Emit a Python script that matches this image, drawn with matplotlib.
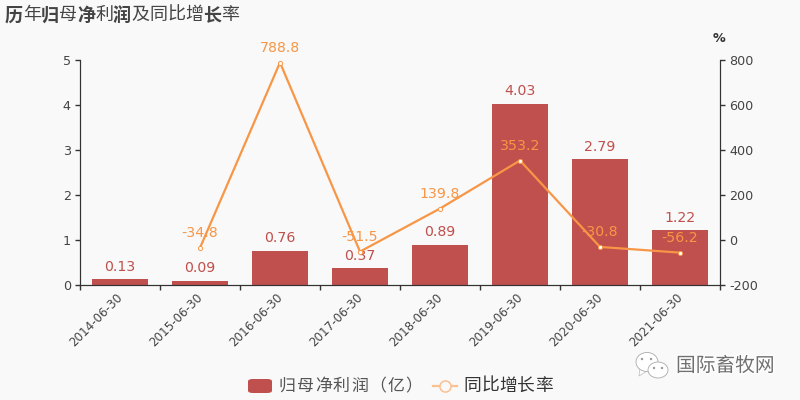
import matplotlib
matplotlib.use('Agg')
import matplotlib.pyplot as plt
import matplotlib.patheffects as pe
from matplotlib.patches import FancyBboxPatch, Ellipse, Polygon
from matplotlib.lines import Line2D

plt.rcParams['font.family'] = ['DejaVu Sans', 'Noto Sans CJK SC']
plt.rcParams['axes.unicode_minus'] = False

# Profit and growth per reporting date
dates = ['2014-06-30', '2015-06-30', '2016-06-30', '2017-06-30',
         '2018-06-30', '2019-06-30', '2020-06-30', '2021-06-30']
profit = [0.13, 0.09, 0.76, 0.37, 0.89, 4.03, 2.79, 1.22]
growth_dates = dates[1:]
growth = [-34.8, 788.8, -51.5, 139.8, 353.2, -30.8, -56.2]
left_ticks = [0, 1, 2, 3, 4, 5]
right_ticks = [-200, 0, 200, 400, 600, 800]
title_text = '历年归母净利润及同比增长率'
bold_chars = '历归净润长'
legend_bar = '归母净利润（亿）'
legend_line = '同比增长率'

BG = '#f9f9f9'
BAR = '#c0504d'
LINE = '#f79646'
DARK = '#333333'
TICK = '#444444'
CJK = ['Noto Sans CJK SC', 'DejaVu Sans']


def spaced_text(fig, text, left, y, size, color, bold=''):
    # one glyph at a time on an 18 px pitch, only some characters are heavy
    for n, ch in enumerate(text):
        fig.text((left + n * 18) / 800, 1 - y / 400, ch, fontsize=size, family=CJK,
                 color=color, va='center', ha='left',
                 fontweight='bold' if ch in bold else 'normal')


fig = plt.figure(figsize=(8, 4), dpi=100, facecolor=BG)
ax = fig.add_axes([80 / 800, 1 - 285 / 400, 640 / 800, 225 / 400], facecolor=BG)
ax2 = ax.twinx()

x = list(range(len(dates)))
ax.bar(x, profit, width=0.7, color=BAR, zorder=2)
ax.set_xlim(-0.5, 7.5)
ax.set_ylim(0, 5)
ax.set_yticks(left_ticks)
ax.set_xticks([i - 0.5 for i in range(len(dates) + 1)])
ax.set_xticklabels([])
for i, d in zip(x, dates):
    ax.annotate(d, (i, 0), xytext=(-3, -4), textcoords='offset points',
                rotation=45, ha='right', va='top', rotation_mode='anchor',
                fontsize=8.6, color=TICK)
for i, v in zip(x, profit):
    ax.annotate(f'{v:.2f}', (i, v), xytext=(0, 4),
                textcoords='offset points', ha='center', va='bottom',
                fontsize=10.2, color=BAR, zorder=6)

gx = [dates.index(d) for d in growth_dates]
ax2.plot(gx, growth, color=LINE, lw=1.6, zorder=4, marker='o', ms=3,
         mfc='white', mec=LINE, mew=0.7)
ax2.set_ylim(-200, 800)
ax2.set_yticks(right_ticks)
for i, v in zip(gx, growth):
    ax2.annotate(f'{v:.1f}', (i, v), xytext=(0, 5.5), textcoords='offset points',
                 ha='center', va='bottom', fontsize=10.2, color=LINE, zorder=6)

for a in (ax, ax2):
    a.spines['top'].set_visible(False)
    a.tick_params(labelcolor=TICK, color=DARK, labelsize=9.2, length=3.6, width=1, pad=3)
    for s in ('left', 'right', 'bottom'):
        a.spines[s].set_color(DARK)
ax.set_zorder(ax2.get_zorder() - 1)
ax2.patch.set_visible(False)

fig.text(719 / 800, 1 - 39 / 400, '%', fontsize=9.2, fontweight='bold',
         color=DARK, ha='center', va='center')

spaced_text(fig, title_text, 5, 15, 13, '#444444', bold_chars)

# Legend
fig.add_artist(FancyBboxPatch((248 / 800, 1 - 393 / 400), 24 / 800, 14 / 400,
                              boxstyle='round,pad=0,rounding_size=0.006',
                              transform=fig.transFigure, fc=BAR, ec='none'))
spaced_text(fig, legend_bar, 279, 386, 12.2, '#555555')
fig.add_artist(Line2D([433 / 800, 457 / 800], [1 - 386 / 400] * 2, color='#fbc090',
                      lw=1.6, transform=fig.transFigure))
fig.add_artist(Line2D([445 / 800], [1 - 386 / 400], marker='o', ms=8, mfc=BG,
                      mec='#fbc090', mew=1.1, ls='none', transform=fig.transFigure))
spaced_text(fig, legend_line, 463, 386, 12.8, '#333333')

# Watermark: chat bubbles and account name
fig.add_artist(Polygon([(640 / 800, 1 - 368 / 400), (639 / 800, 1 - 376 / 400),
                        (647 / 800, 1 - 371 / 400)], transform=fig.transFigure,
                       fc='white', ec='#bbbbbb', lw=0.5))
for cx, cy, w, h in [(647, 362, 22, 19), (658, 370, 20, 16)]:
    fig.add_artist(Ellipse((cx / 800, 1 - cy / 400), w / 800, h / 400,
                           transform=fig.transFigure,
                           fc='white', ec='#aaaaaa', lw=0.6))
for ex, ey in [(642, 359), (651, 359), (654, 368), (662, 368)]:
    fig.add_artist(Ellipse((ex / 800, 1 - ey / 400), 2.4 / 800, 2.4 / 400,
                           transform=fig.transFigure, fc='#999999', ec='none'))
fig.text(676 / 800, 1 - 366 / 400, '国际畜牧网', fontsize=14.2, family=CJK,
         color='#707070', va='center', ha='left',
         path_effects=[pe.withStroke(linewidth=2, foreground='white')])

fig.savefig('out.png', dpi=100, facecolor=BG)
